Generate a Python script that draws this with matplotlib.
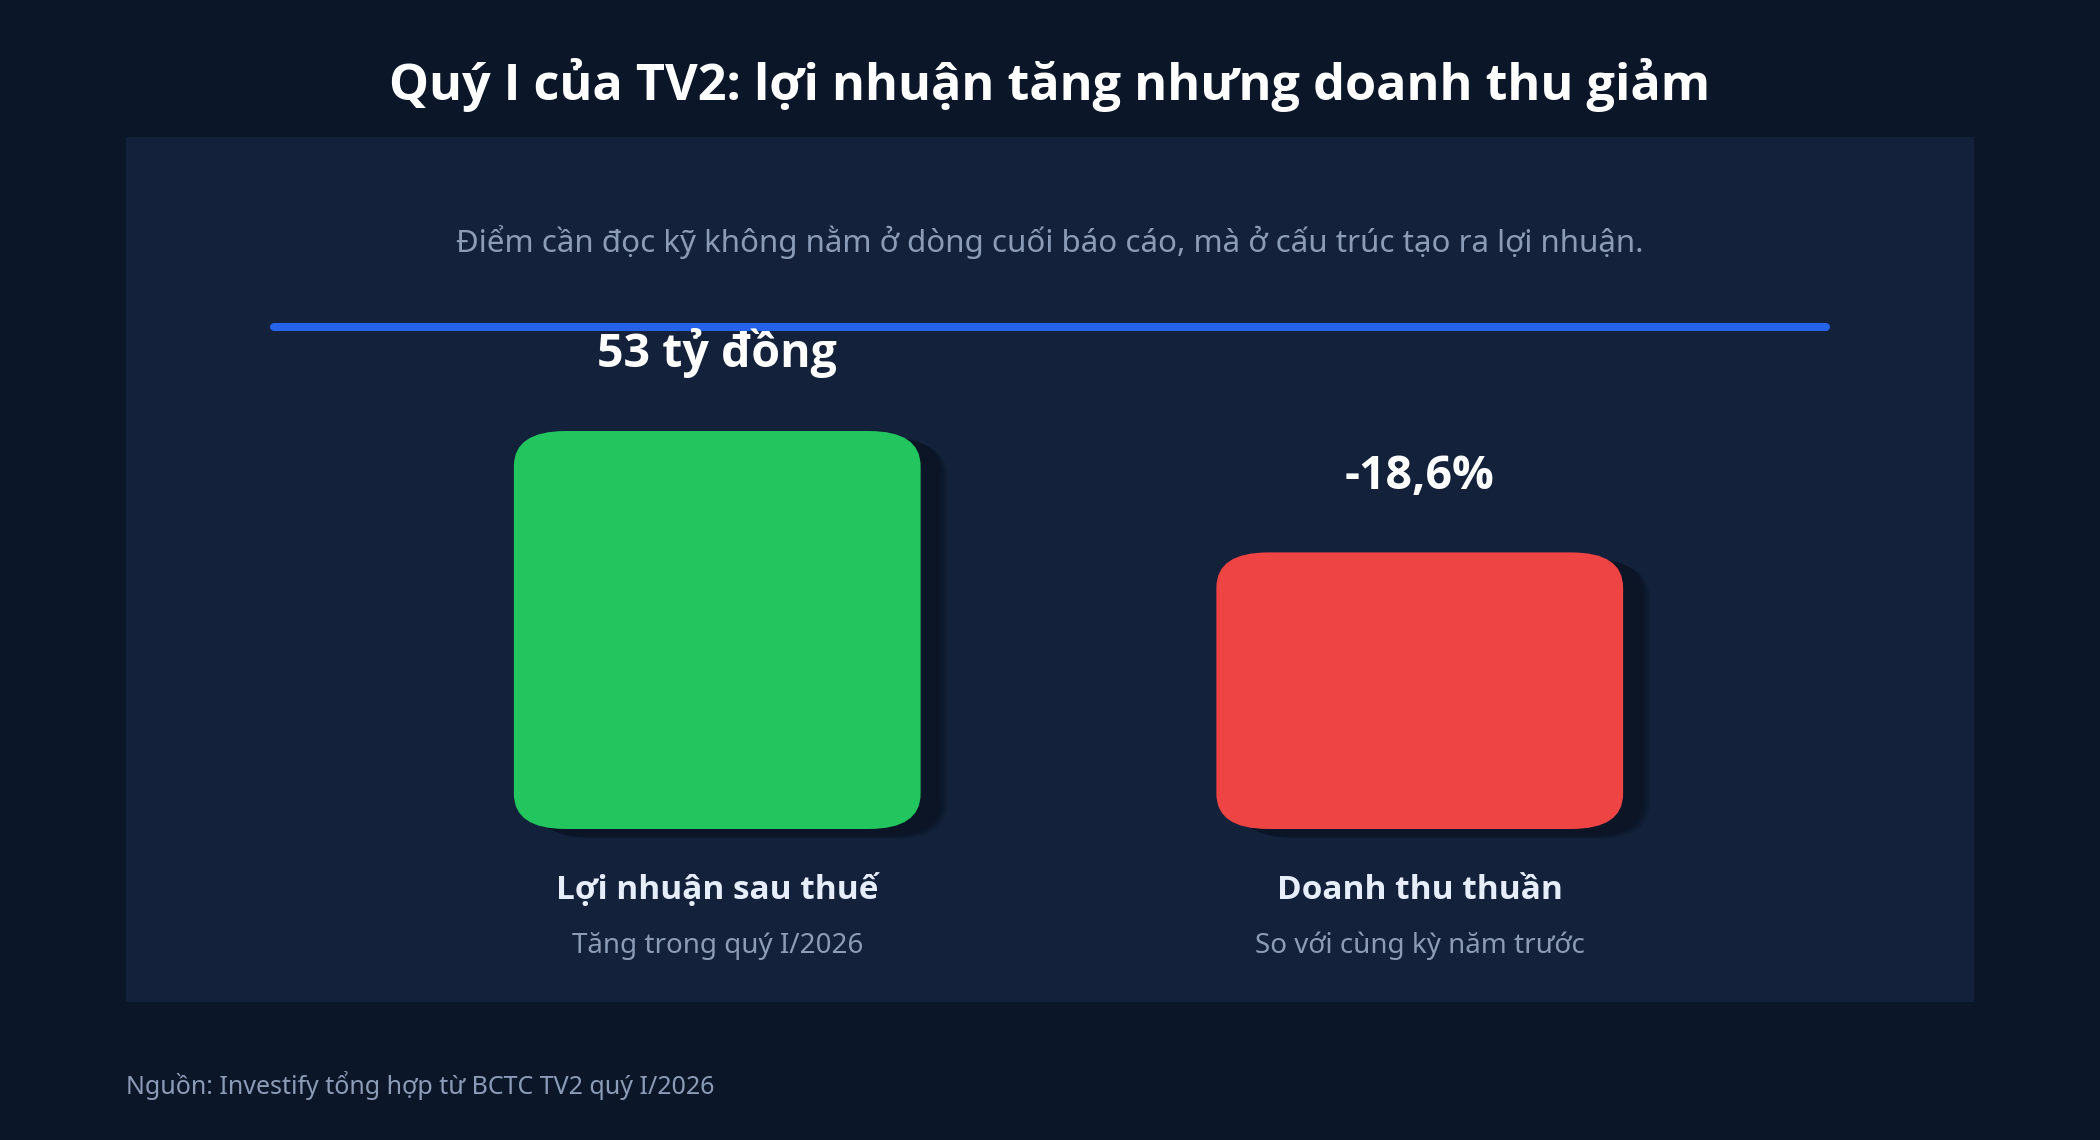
import matplotlib
matplotlib.use("Agg")
import matplotlib.pyplot as plt
from matplotlib.patches import FancyBboxPatch, Rectangle
from matplotlib.lines import Line2D
import matplotlib.transforms as mtransforms

plt.rcParams['font.family'] = ['Noto Sans', 'DejaVu Sans']
BOLD_FAMILY = ['Open Sans', 'Noto Sans', 'DejaVu Sans']

# data
categories = ["Lợi nhuận sau thuế", "Doanh thu thuần"]
sublabels = ["Tăng trong quý I/2026", "So với cùng kỳ năm trước"]
value_labels = ["53 tỷ đồng", "-18,6%"]
bar_heights = [100, 69.5]        # visual height of each card
bar_colors = ["#22c55e", "#ef4444"]

title = "Quý I của TV2: lợi nhuận tăng nhưng doanh thu giảm"
subtitle = "Điểm cần đọc kỹ không nằm ở dòng cuối báo cáo, mà ở cấu trúc tạo ra lợi nhuận."
source = "Nguồn: Investify tổng hợp từ BCTC TV2 quý I/2026"

BG = "#0b1729"
PANEL = "#13213a"
MUTED = "#8d9cb6"
W, H = 2100, 1140

fig = plt.figure(figsize=(21, 11.4), dpi=100, facecolor=BG)

# card panel
fig.patches.append(Rectangle((126 / W, 1 - 1002 / H), (1974 - 126) / W, (1002 - 137) / H,
                             transform=fig.transFigure, facecolor=PANEL, edgecolor='none', zorder=-5))

fig.text(0.5, 1 - 100 / H, title, ha='center', va='baseline', fontsize=36.3,
         fontweight='bold', color='white', family=BOLD_FAMILY)
fig.text(0.5, 1 - 252 / H, subtitle, ha='center', va='baseline', fontsize=22.5, color=MUTED)
fig.add_artist(Line2D([274 / W, 1826 / W], [1 - 327 / H, 1 - 327 / H], transform=fig.transFigure,
                      color="#2563eb", lw=5.8, solid_capstyle='round', zorder=1))
fig.text(126 / W, 1 - 1094 / H, source, ha='left', va='baseline', fontsize=18, color=MUTED)

# bars axes
ax_left, ax_right = 366, 1771
ax_bottom, ax_top = 829, 431
ax = fig.add_axes([ax_left / W, 1 - ax_bottom / H, (ax_right - ax_left) / W, (ax_bottom - ax_top) / H])
ax.set_zorder(2)
ax.set_xlim(-0.5, 1.5)
ax.set_ylim(0, 100)
ax.axis('off')

x = list(range(len(categories)))
bars = ax.bar(x, bar_heights, width=0.579, color='none')

round_x = 0.074
aspect = 8.8 / round_x
for b, c in zip(bars, bar_colors):
    bx, by, bw, bh = b.get_x(), b.get_y(), b.get_width(), b.get_height()
    # soft shadow
    for i, a in enumerate([0.3, 0.45, 0.7, 0.9]):
        off = mtransforms.offset_copy(ax.transData, fig=fig, x=19 - i * 1.8, y=-7 + i * 0.8, units='points')
        sh = FancyBboxPatch((bx, by), bw, bh, boxstyle=f"round,pad=0,rounding_size={round_x}",
                            mutation_aspect=aspect, facecolor="#0b1526", edgecolor='none',
                            alpha=a, transform=off, clip_on=False, zorder=1)
        ax.add_patch(sh)
    ax.add_patch(FancyBboxPatch((bx, by), bw, bh, boxstyle=f"round,pad=0,rounding_size={round_x}",
                                mutation_aspect=aspect, facecolor=c, edgecolor='none',
                                clip_on=False, zorder=2))

for xi, h, vl, cat, sl in zip(x, bar_heights, value_labels, categories, sublabels):
    ax.annotate(vl, (xi, h), xytext=(0, 46), textcoords='offset points', ha='center',
                va='baseline', fontsize=33.5, fontweight='bold', color='white',
                family=BOLD_FAMILY, annotation_clip=False)
    ax.annotate(cat, (xi, 0), xytext=(0, -50.4), textcoords='offset points', ha='center',
                va='baseline', fontsize=24, fontweight='bold', color="#e6eefb",
                family=BOLD_FAMILY, annotation_clip=False)
    ax.annotate(sl, (xi, 0), xytext=(0, -89.3), textcoords='offset points', ha='center',
                va='baseline', fontsize=20, color=MUTED, annotation_clip=False)

fig.savefig("out.png", dpi=100, facecolor=BG)
